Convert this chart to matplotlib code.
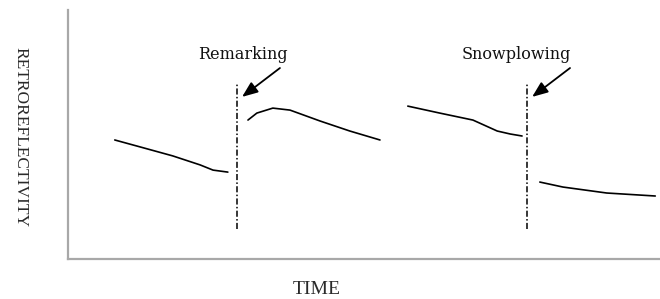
import matplotlib
matplotlib.use("Agg")
import matplotlib.pyplot as plt

# Data (arbitrary units: time 0-100, retroreflectivity 0-100)
seg1_t = [7.9, 12.2, 17.7, 22.3, 24.5, 27.0]
seg1_r = [47.8, 45.0, 41.4, 37.8, 35.7, 34.9]
seg2_t = [30.4, 31.9, 34.6, 37.5, 42.6, 47.6, 52.7]
seg2_r = [55.8, 58.6, 60.6, 59.8, 55.4, 51.4, 47.8]
seg3_t = [57.4, 62.8, 68.4, 72.5, 74.7, 76.7]
seg3_r = [61.4, 58.6, 55.8, 51.4, 50.2, 49.4]
seg4_t = [79.7, 83.6, 91.0, 99.2]
seg4_r = [30.9, 28.9, 26.5, 25.3]

events = ["Remarking", "Snowplowing"]
event_t = [28.55, 77.5]
event_r_range = (12.0, 70.7)
label_pos = [(29.6, 82.3), (75.8, 82.3)]
arrow_tail = [(35.8, 76.7), (84.8, 76.7)]
arrow_tip = [(29.4, 65.1), (78.4, 65.1)]

fig = plt.figure(figsize=(6.6, 2.99), dpi=100)
ax = fig.add_axes([68/660, 40/299, 592/660, 249/299])
ax.set_xlim(0, 100)
ax.set_ylim(0, 100)

for t, r in [(seg1_t, seg1_r), (seg2_t, seg2_r), (seg3_t, seg3_r), (seg4_t, seg4_r)]:
    ax.plot(t, r, color="black", lw=1.2, solid_capstyle="round", solid_joinstyle="round")

for name, x, lp, tail, tip in zip(events, event_t, label_pos, arrow_tail, arrow_tip):
    ax.plot([x, x], list(event_r_range), color="black", lw=1.1,
            linestyle=(0, (4, 1.5, 1, 1.5)))
    ax.text(lp[0], lp[1], name, ha="center", va="center",
            fontsize=11.5, family="DejaVu Serif", color="#111111")
    ax.annotate("", xy=tip, xytext=tail,
                arrowprops=dict(arrowstyle="-|>,head_length=0.95,head_width=0.38",
                                color="black", lw=1.3, shrinkA=0, shrinkB=0))

for s in ["top", "right"]:
    ax.spines[s].set_visible(False)
for s in ["left", "bottom"]:
    ax.spines[s].set_color("#a8a8a8")
    ax.spines[s].set_linewidth(1.6)
ax.set_xticks([])
ax.set_yticks([])

fig.text(20/660, 1 - 137/299, "RETROREFLECTIVITY", rotation=-90, ha="center", va="center",
         fontsize=12.5, family="Liberation Serif", color="#2a2a2a")
fig.text(317/660, 1 - 290/299, "TIME", ha="center", va="center",
         fontsize=14, family="Liberation Serif", color="#2a2a2a")

fig.savefig("out.png", dpi=100)
